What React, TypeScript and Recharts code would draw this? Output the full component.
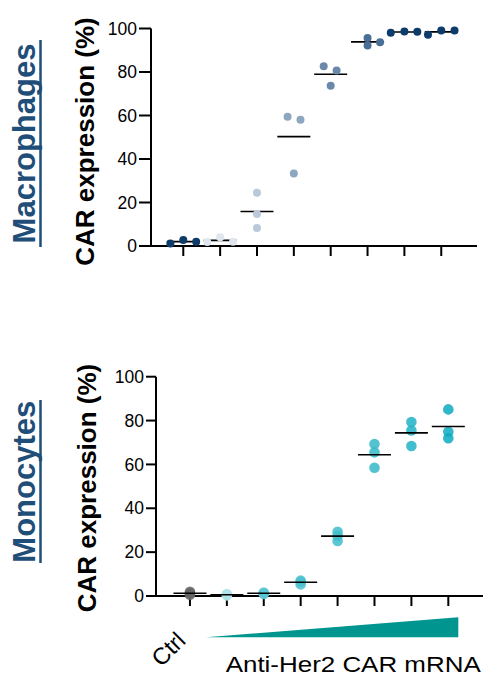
import React from "react";
import { ScatterChart, Scatter, XAxis, YAxis } from "recharts";

const groups = [1, 2, 3, 4, 5, 6, 7, 8];
const yTicks = [0, 20, 40, 60, 80, 100];

// Macrophages, CAR expression (%) per replicate
const macroValues = [
  [1.2, 2.8, 2.0],
  [1.8, 4.0, 2.0],
  [24.5, 14.7, 8.3],
  [59.4, 58.1, 33.3],
  [82.6, 80.7, 73.7],
  [95.6, 92.2, 93.7],
  [98.0, 98.6, 98.5],
  [97.1, 99.1, 99.1],
];
// horizontal spread of replicates within a group (in group units)
const macroJitter = [
  [-0.35, 0, 0.35],
  [-0.35, 0, 0.35],
  [0, 0, 0],
  [-0.17, 0.18, 0],
  [-0.19, 0.16, 0],
  [0, 0, 0.34],
  [-0.37, 0, 0.35],
  [-0.36, 0, 0.36],
];
const macroColors = ["#0d3c6b", "#dfe6ee", "#bac9da", "#8ea7c0", "#6a89aa", "#4a6f96", "#0d3c6b", "#0d3c6b"];

// Monocytes, CAR expression (%) per replicate
const monoValues = [
  [1.9, 1.2, 0.6],
  [0.9, 0.5, 0.3],
  [1.6, 1.2, 0.9],
  [7.0, 6.6, 5.3],
  [29.3, 27.5, 25.1],
  [69.3, 65.5, 58.5],
  [79.3, 75.5, 68.4],
  [85.1, 74.9, 71.9],
];
const monoColors = ["#656565", "#b2e2ea", "#5cc6d4", "#4bc1cf", "#3fbdcc", "#35b8c8", "#20b1c4", "#0caabf"];

const FONT = "'Liberation Sans', Arial, Helvetica, sans-serif";

const mean = (a: number[]) => a.reduce((s, v) => s + v, 0) / a.length;

function pointsFor(values: number[][], jitter: number[][] | null, gi: number) {
  return values[gi].map((v, i) => ({ x: groups[gi] + (jitter ? jitter[gi][i] : 0), y: v }));
}
function meansFor(values: number[][]) {
  return groups.map((g, i) => ({ x: g, y: mean(values[i]) }));
}

const MeanLine = (p: any) => (
  <line x1={p.cx - 16.5} x2={p.cx + 16.5} y1={p.cy} y2={p.cy} stroke="#000" strokeWidth={1.6} />
);

function Panel({
  values,
  jitter,
  colors,
  width,
  height,
  top,
  yAxisWidth,
  right,
  xAxisHeight,
  domain,
  r,
  opacity,
  meansOnTop,
  tickSize,
}: any) {
  const means = (
    <Scatter data={meansFor(values)} shape={MeanLine} isAnimationActive={false} />
  );
  return (
    <ScatterChart width={width} height={height} margin={{ top, right, bottom: 0, left: 0 }}>
      <XAxis
        type="number"
        dataKey="x"
        domain={domain}
        allowDataOverflow
        ticks={groups}
        tickFormatter={() => ""}
        height={xAxisHeight}
        tickSize={10}
        axisLine={{ stroke: "#000", strokeWidth: 2 }}
        tickLine={{ stroke: "#000", strokeWidth: 2 }}
      />
      <YAxis
        type="number"
        dataKey="y"
        domain={[0, 100]}
        ticks={yTicks}
        width={yAxisWidth}
        tickSize={tickSize}
        tickMargin={2}
        tick={{ fill: "#000", fontSize: 17.5, fontFamily: FONT }}
        axisLine={{ stroke: "#000", strokeWidth: 2 }}
        tickLine={{ stroke: "#000", strokeWidth: 2 }}
      />
      {!meansOnTop && means}
      {groups.map((g, gi) => (
        <Scatter
          key={g}
          data={pointsFor(values, jitter, gi)}
          isAnimationActive={false}
          shape={(p: any) => (
            <circle cx={p.cx} cy={p.cy} r={r} fill={colors[gi]} fillOpacity={opacity} />
          )}
        />
      ))}
      {meansOnTop && means}
    </ScatterChart>
  );
}

export default function App() {
  return (
    <div style={{ position: "fixed", left: 0, top: 0, width: 487, height: 677, background: "#fff" }}>
      <div style={{ position: "absolute", left: 0, top: 0 }}>
        <Panel
          values={macroValues}
          jitter={macroJitter}
          colors={macroColors}
          width={487}
          height={260}
          top={28.5}
          right={10}
          yAxisWidth={151}
          xAxisHeight={14}
          domain={[0.124, 8.97]}
          r={4}
          opacity={1}
          meansOnTop={false}
          tickSize={12}
        />
      </div>
      <div style={{ position: "absolute", left: 0, top: 340 }}>
        <Panel
          values={monoValues}
          jitter={null}
          colors={monoColors}
          width={487}
          height={280}
          top={36.7}
          right={4}
          yAxisWidth={156}
          xAxisHeight={24}
          domain={[0.08, 8.94]}
          r={5.3}
          opacity={0.85}
          meansOnTop={true}
          tickSize={10}
        />
      </div>
      <svg width={487} height={677} style={{ position: "absolute", left: 0, top: 0, pointerEvents: "none" }}>
        <g fontFamily={FONT}>
          <text transform="translate(35,143.5) rotate(-90)" textAnchor="middle" fontSize={31} fontWeight="bold" fill="#1f4e79">
            Macrophages
          </text>
          <line x1={40.5} x2={40.5} y1={40} y2={247} stroke="#1f4e79" strokeWidth={2.5} />
          <text transform="translate(94,141.5) rotate(-90)" textAnchor="middle" fontSize={26} fontWeight="bold" fill="#000">
            CAR expression (%)
          </text>
          <text transform="translate(35,481.7) rotate(-90)" textAnchor="middle" fontSize={31} fontWeight="bold" fill="#1f4e79">
            Monocytes
          </text>
          <line x1={40.5} x2={40.5} y1={400} y2={563} stroke="#1f4e79" strokeWidth={2.5} />
          <text transform="translate(96,488) rotate(-90)" textAnchor="middle" fontSize={26} fontWeight="bold" fill="#000">
            CAR expression (%)
          </text>
          <text transform="translate(187,642) rotate(-45)" textAnchor="end" fontSize={23.5} fill="#000">
            Ctrl
          </text>
          <polygon points="206,637.3 458.3,637.3 458.3,617.3" fill="#00968f" />
          <text x={225.7} y={671.7} fontSize={21.5} fill="#000" textLength={255} lengthAdjust="spacingAndGlyphs">
            Anti-Her2 CAR mRNA
          </text>
        </g>
      </svg>
    </div>
  );
}
